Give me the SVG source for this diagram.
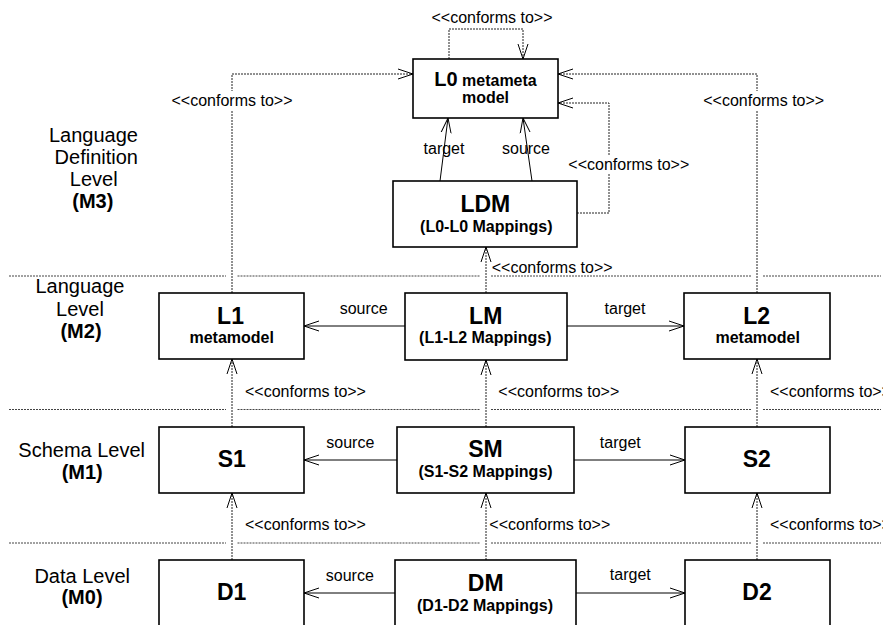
<svg xmlns="http://www.w3.org/2000/svg" width="883" height="625" viewBox="0 0 883 625">
  <style>
    text { font-family: "Liberation Sans", Arial, sans-serif; fill: #000; }
    .lvl { font-size: 20px; text-anchor: middle; }
    .lvlb { font-size: 20px; font-weight: bold; text-anchor: middle; }
    .lbl { font-size: 16px; }
    .mid { text-anchor: middle; }
    .big { font-size: 23px; font-weight: bold; text-anchor: middle; }
    .sub { font-size: 16px; font-weight: bold; text-anchor: middle; }
    .box { fill: #fff; stroke: #000; stroke-width: 1.6; }
    .div { fill: none; stroke: #444; stroke-width: 1; stroke-dasharray: 2 1; }
    .conf { fill: none; stroke: #222; stroke-width: 1; stroke-dasharray: 2 1; marker-end: url(#open); }
    .rel { fill: none; stroke: #000; stroke-width: 1; marker-end: url(#open); }
    .bg { fill: #fff; }
  </style>
  <defs>
    <marker id="open" markerUnits="userSpaceOnUse" markerWidth="17" markerHeight="13" refX="15" refY="6" orient="auto">
      <path d="M0,1 L15,6 L0,11" fill="none" stroke="#000" stroke-width="1" stroke-dasharray="none"/>
    </marker>
  </defs>

  <rect width="883" height="625" fill="#fff"/>

  <!-- level separators -->
  <g id="separators">
    <path class="div" d="M9,276 H226 M237.5,276 H480 M491,276 H751.5 M763,276 H881"/>
    <path class="div" d="M9,409.5 H226 M237.5,409.5 H480 M491,409.5 H751.5 M763,409.5 H881"/>
    <path class="div" d="M9,543 H226 M237.5,543 H480 M491,543 H751.5 M763,543 H881"/>
  </g>

  <!-- level captions -->
  <g id="levels">
    <text class="lvl" x="93.5" y="141.7">Language</text>
    <text class="lvl" x="96.3" y="164">Definition</text>
    <text class="lvl" x="93.7" y="186.3">Level</text>
    <text class="lvlb" x="92.8" y="208.3">(M3)</text>

    <text class="lvl" x="80" y="293">Language</text>
    <text class="lvl" x="80" y="315.5">Level</text>
    <text class="lvlb" x="81" y="337.5">(M2)</text>

    <text class="lvl" x="81.7" y="456.7">Schema Level</text>
    <text class="lvlb" x="82.2" y="478.5">(M1)</text>

    <text class="lvl" x="82.2" y="582.7">Data Level</text>
    <text class="lvlb" x="82" y="603.5">(M0)</text>
  </g>

  <!-- connectors -->
  <g id="connectors">
    <!-- conformance (dashed) -->
    <path class="conf" d="M449,59 V29 H523 V59"/>
    <path class="conf" d="M232,293 V74 H413"/>
    <path class="conf" d="M757,293 V74 H558"/>
    <path class="conf" d="M577,213 H609 V103 H558"/>
    <path class="conf" d="M486,293 V247"/>
    <path class="conf" d="M232,427 V359"/>
    <path class="conf" d="M486,427 V360"/>
    <path class="conf" d="M757,427 V359"/>
    <path class="conf" d="M232,560 V493"/>
    <path class="conf" d="M486,560 V493"/>
    <path class="conf" d="M757,560 V493"/>

    <!-- mappings (solid) -->
    <path class="rel" d="M440,181 L448,118"/>
    <path class="rel" d="M532,181 L523,118"/>
    <path class="rel" d="M405,326 H304"/>
    <path class="rel" d="M567,326 H684"/>
    <path class="rel" d="M397,460 H304"/>
    <path class="rel" d="M574,460 H685"/>
    <path class="rel" d="M395,593 H304"/>
    <path class="rel" d="M576,593 H685"/>

    <!-- connector labels -->
    <text class="lbl mid" x="492" y="22.5">&lt;&lt;conforms to&gt;&gt;</text>

    <rect class="bg" x="172" y="91" width="120" height="19"/>
    <text class="lbl mid" x="232" y="105.5">&lt;&lt;conforms to&gt;&gt;</text>
    <rect class="bg" x="704" y="91" width="120" height="19"/>
    <text class="lbl mid" x="763.7" y="105.5">&lt;&lt;conforms to&gt;&gt;</text>
    <rect class="bg" x="569" y="155" width="120" height="19"/>
    <text class="lbl mid" x="628.8" y="169.5">&lt;&lt;conforms to&gt;&gt;</text>

    <text class="lbl mid" x="444" y="154">target</text>
    <text class="lbl mid" x="526" y="154">source</text>

    <text class="lbl" x="491.7" y="273.3">&lt;&lt;conforms to&gt;&gt;</text>

    <text class="lbl mid" x="363.7" y="314">source</text>
    <text class="lbl mid" x="625" y="314">target</text>

    <text class="lbl" x="245" y="397.3">&lt;&lt;conforms to&gt;&gt;</text>
    <text class="lbl" x="498.3" y="397.3">&lt;&lt;conforms to&gt;&gt;</text>
    <text class="lbl" x="770" y="397.3">&lt;&lt;conforms to&gt;&gt;</text>

    <text class="lbl mid" x="350.3" y="447.7">source</text>
    <text class="lbl mid" x="620.3" y="447.7">target</text>

    <text class="lbl" x="245" y="530">&lt;&lt;conforms to&gt;&gt;</text>
    <text class="lbl" x="489.3" y="530">&lt;&lt;conforms to&gt;&gt;</text>
    <text class="lbl" x="770" y="530">&lt;&lt;conforms to&gt;&gt;</text>

    <text class="lbl mid" x="349.8" y="580.7">source</text>
    <text class="lbl mid" x="630.3" y="580">target</text>
  </g>

  <!-- nodes -->
  <g id="L0">
    <rect class="box" x="413" y="59" width="145" height="59"/>
    <text class="sub" x="485.5" y="86"><tspan font-size="20px">L0</tspan> metameta</text>
    <text class="sub" x="485.5" y="103">model</text>
  </g>
  <g id="LDM">
    <rect class="box" x="393" y="181" width="184" height="66"/>
    <text class="big" x="485.3" y="211.7">LDM</text>
    <text class="sub" x="486.3" y="231.7">(L0-L0 Mappings)</text>
  </g>
  <g id="L1">
    <rect class="box" x="159" y="293" width="145" height="66"/>
    <text class="big" x="230.5" y="324">L1</text>
    <text class="sub" x="231.7" y="343.3">metamodel</text>
  </g>
  <g id="LM">
    <rect class="box" x="405" y="293" width="162" height="67"/>
    <text class="big" x="485.7" y="324.3">LM</text>
    <text class="sub" x="485.3" y="343.3">(L1-L2 Mappings)</text>
  </g>
  <g id="L2">
    <rect class="box" x="684" y="293" width="146" height="66"/>
    <text class="big" x="756.7" y="324">L2</text>
    <text class="sub" x="757.7" y="343.3">metamodel</text>
  </g>
  <g id="S1">
    <rect class="box" x="159" y="427" width="145" height="66"/>
    <text class="big" x="231.7" y="467.3">S1</text>
  </g>
  <g id="SM">
    <rect class="box" x="397" y="427" width="177" height="66"/>
    <text class="big" x="485.5" y="457.3">SM</text>
    <text class="sub" x="485.5" y="476.7">(S1-S2 Mappings)</text>
  </g>
  <g id="S2">
    <rect class="box" x="685" y="427" width="145" height="66"/>
    <text class="big" x="756.7" y="467.3">S2</text>
  </g>
  <g id="D1">
    <rect class="box" x="159" y="560" width="145" height="80"/>
    <text class="big" x="231.7" y="600">D1</text>
  </g>
  <g id="DM">
    <rect class="box" x="395" y="560" width="181" height="80"/>
    <text class="big" x="485.7" y="590.7">DM</text>
    <text class="sub" x="485" y="611">(D1-D2 Mappings)</text>
  </g>
  <g id="D2">
    <rect class="box" x="685" y="560" width="145" height="80"/>
    <text class="big" x="757" y="600">D2</text>
  </g>
</svg>
